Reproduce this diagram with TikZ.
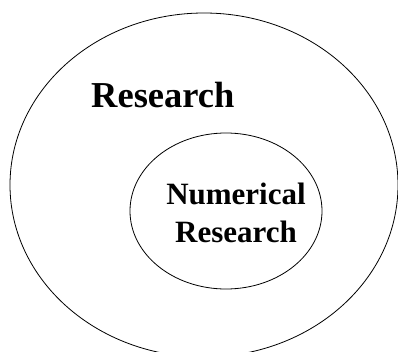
\documentclass[tikz,border=0pt]{standalone}
\usepackage{fontspec}
\setmainfont{Liberation Serif}
\usepackage{tikz}
\usetikzlibrary{shapes.geometric}

\begin{document}
\begin{tikzpicture}[x=1pt,y=1pt,
  set/.style={draw,ellipse,line width=0.8pt,inner sep=0pt},
  setlabel/.style={inner sep=0pt}]
  \useasboundingbox (0,0) rectangle (398,351);
  \clip (0,0) rectangle (398,351);
  \node[set,minimum width=388pt,minimum height=344pt] (research) at (204,166) {};
  \node[set,minimum width=192pt,minimum height=156pt] (numerical) at (226,140) {};
  \node[setlabel,anchor=base west,font=\fontsize{36.5}{40}\bfseries\selectfont] (researchlabel) at (91,243) {Research};
  \node[setlabel,align=center,font=\fontsize{31}{38}\bfseries\selectfont] (numericallabel) at (236,138.5) {Numerical\\Research};
\end{tikzpicture}
\end{document}
